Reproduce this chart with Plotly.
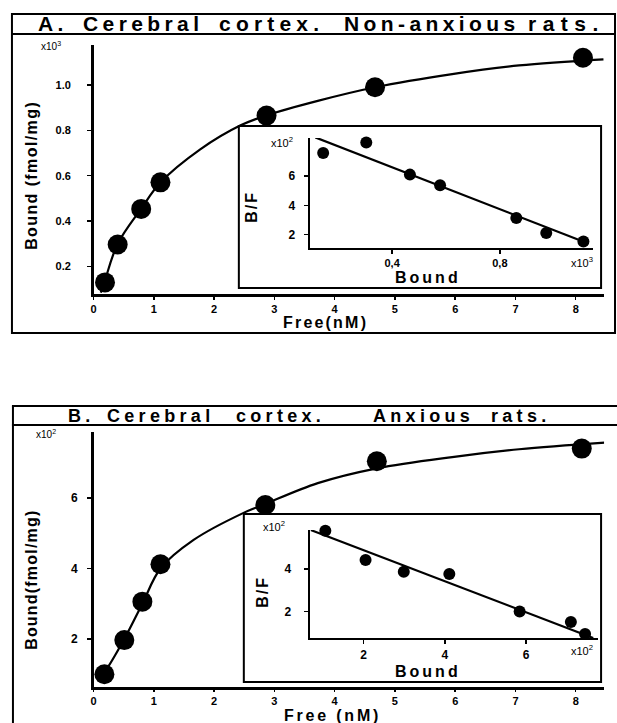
import plotly.graph_objects as go

W, H = 617, 723
def fx(x): return x / W
def fy(y): return 1 - y / H

# ---------------- Data ----------------
# Panel A: Non-anxious rats (Bound in x10^3 fmol/mg)
a_free = [0.19, 0.40, 0.79, 1.11, 2.87, 4.67, 8.12]
a_bound = [0.13, 0.297, 0.454, 0.571, 0.865, 0.99, 1.12]
a_curve_free = [0.12, 0.19, 0.40, 0.79, 1.11, 1.77, 2.44, 2.87, 3.72, 4.67, 5.95, 7.06, 8.46]
a_curve_bound = [0.085, 0.14, 0.30, 0.455, 0.57, 0.716, 0.822, 0.866, 0.93, 0.99, 1.048, 1.086, 1.113]
a_sc_bound = [0.144, 0.304, 0.466, 0.578, 0.861, 0.972, 1.11]
a_sc_bf = [7.58, 8.30, 6.10, 5.37, 3.14, 2.11, 1.54]
a_fit_bound = [0.115, 1.123]
a_fit_bf = [8.64, 1.43]

# Panel B: Anxious rats (Bound in x10^2 fmol/mg)
b_free = [0.18, 0.51, 0.81, 1.11, 2.85, 4.70, 8.10]
b_bound = [1.0, 1.97, 3.06, 4.12, 5.80, 7.04, 7.40]
b_curve_free = [0.08, 0.18, 0.51, 0.81, 1.11, 1.66, 2.48, 2.85, 3.72, 4.70, 5.95, 7.06, 8.48]
b_curve_bound = [0.84, 1.05, 2.0, 3.0, 4.0, 4.81, 5.57, 5.83, 6.42, 6.84, 7.16, 7.38, 7.57]
b_sc_bound = [1.06, 2.05, 2.99, 4.11, 5.84, 7.10, 7.45]
b_sc_bf = [5.80, 4.42, 3.87, 3.76, 2.0, 1.50, 0.94]
b_fit_bound = [0.70, 7.65]
b_fit_bf = [5.83, 0.75]

main_x_ticks = [0, 1, 2, 3, 4, 5, 6, 7, 8]
a_y_ticks = [0.2, 0.4, 0.6, 0.8, 1.0]
a_y_labels = ["0.2", "0.4", "0.6", "0.8", "1.0"]
a_in_x_ticks = [0.4, 0.8]
a_in_x_labels = ["0,4", "0,8"]
a_in_y_ticks = [2, 4, 6]
b_y_ticks = [2, 4, 6]
b_in_x_ticks = [2, 4, 6]
b_in_y_ticks = [2, 4]

FONT = "Liberation Sans, Arial, sans-serif"
BLACK = "black"

fig = go.Figure()

def big(x, y, xa, ya):
    fig.add_trace(go.Scatter(x=x, y=y, mode="markers", xaxis=xa, yaxis=ya,
                             marker=dict(size=20, color=BLACK), cliponaxis=False,
                             showlegend=False, hoverinfo="skip"))

def small(x, y, xa, ya):
    fig.add_trace(go.Scatter(x=x, y=y, mode="markers", xaxis=xa, yaxis=ya,
                             marker=dict(size=12, color=BLACK), cliponaxis=False,
                             showlegend=False, hoverinfo="skip"))

def line(x, y, xa, ya, spline=False):
    fig.add_trace(go.Scatter(x=x, y=y, mode="lines", xaxis=xa, yaxis=ya,
                             line=dict(color=BLACK, width=2.2,
                                       shape="spline" if spline else "linear", smoothing=1.0),
                             cliponaxis=False, showlegend=False, hoverinfo="skip"))

# Panel A
line(a_curve_free, a_curve_bound, "x", "y", spline=True)
big(a_free, a_bound, "x", "y")
line(a_fit_bound, a_fit_bf, "x2", "y2")
small(a_sc_bound, a_sc_bf, "x2", "y2")
# Panel B
line(b_curve_free, b_curve_bound, "x3", "y3", spline=True)
big(b_free, b_bound, "x3", "y3")
line(b_fit_bound, b_fit_bf, "x4", "y4")
small(b_sc_bound, b_sc_bf, "x4", "y4")

def ax(domain, rng, tickvals, ticktext=None, lw=2.5, fs=11, standoff=3, anchor=None, ticklen=4):
    d = dict(domain=domain, range=rng, tickvals=tickvals, showline=True, linecolor=BLACK,
             linewidth=lw, ticks="outside", ticklen=ticklen, tickwidth=1.5, tickcolor=BLACK,
             showgrid=False, zeroline=False, fixedrange=True,
             tickfont=dict(family=FONT, size=fs, color=BLACK, weight="bold"),
             ticklabelstandoff=standoff)
    if ticktext is not None:
        d["ticktext"] = ticktext
    if anchor:
        d["anchor"] = anchor
    return d

fig.update_layout(
    width=W, height=H, margin=dict(l=0, r=0, t=0, b=0),
    paper_bgcolor="white", plot_bgcolor="rgba(0,0,0,0)",
    xaxis=ax([fx(91), fx(604)], [0, 8.47], main_x_ticks, standoff=0, anchor="y", ticklen=3),
    yaxis=ax([fy(294), fy(45)], [0.079, 1.176], a_y_ticks, a_y_labels, standoff=14, anchor="x"),
    xaxis2=ax([fx(309), fx(593)], [0.097, 1.146], a_in_x_ticks, a_in_x_labels, lw=2, fs=11, standoff=0, anchor="y2"),
    yaxis2=ax([fy(248), fy(138)], [1.09, 8.6], a_in_y_ticks, lw=2, fs=12, standoff=7, anchor="x2"),
    xaxis3=ax([fx(91), fx(604)], [0, 8.47], main_x_ticks, standoff=0, anchor="y3", ticklen=2),
    yaxis3=ax([fy(687), fy(432)], [0.64, 7.87], b_y_ticks, fs=12, standoff=7, anchor="x3"),
    xaxis4=ax([fx(309), fx(598)], [0.695, 7.77], b_in_x_ticks, lw=2, fs=12, standoff=1, anchor="y4"),
    yaxis4=ax([fy(638), fy(530)], [0.75, 5.83], b_in_y_ticks, lw=2, fs=12, standoff=11, anchor="x4"),
)

shapes = []
def rect(x0, y0, x1, y1, w=2):
    shapes.append(dict(type="rect", xref="paper", yref="paper", x0=fx(x0), x1=fx(x1),
                       y0=fy(y1), y1=fy(y0), line=dict(color=BLACK, width=w), layer="below"))
def hline(x0, x1, y, w=2):
    shapes.append(dict(type="line", xref="paper", yref="paper", x0=fx(x0), x1=fx(x1),
                       y0=fy(y), y1=fy(y), line=dict(color=BLACK, width=w), layer="below"))
def vline(x, y0, y1, w=2):
    shapes.append(dict(type="line", xref="paper", yref="paper", x0=fx(x), x1=fx(x),
                       y0=fy(y0), y1=fy(y1), line=dict(color=BLACK, width=w), layer="below"))

# Panel A frame
rect(9, 14, 615, 333, 2)
hline(9, 615, 34, 2)
# Panel A inset frame
rect(237, 126, 601, 288, 2)
# Panel B frame
hline(9, 617, 406, 2)
hline(9, 617, 425, 2)
vline(10, 406, 723, 2)
# Panel B inset frame
rect(242, 514, 601, 682, 2)
fig.update_layout(shapes=shapes)

ann = []
def text(x, y, t, size=11, bold=True, xanchor="center", yanchor="middle", angle=0, ls=0):
    if ls:
        t = f'<span style="letter-spacing:{ls}px">{t}</span>'
    ann.append(dict(x=fx(x), y=fy(y), xref="paper", yref="paper", text=t, showarrow=False,
                    xanchor=xanchor, yanchor=yanchor, textangle=angle,
                    font=dict(family=FONT, size=size, color=BLACK,
                              weight="bold" if bold else "normal")))

# Titles (word by word to follow the spaced lettering)
for xx, w, s in [(33, "A.", 4.4), (78, "Cerebral", 4.4), (215, "cortex.", 5.2),
                 (341, "Non-anxious", 4.4), (526, "rats.", 6.5)]:
    text(xx, 24, w, size=21, xanchor="left", ls=s)
for xx, w in [(63, "B."), (102, "Cerebral"), (232, "cortex."), (370, "Anxious"), (488, "rats.")]:
    text(xx, 416, w, size=18, xanchor="left", ls=4.3)

# Panel A labels
text(48, 46, "x10<sup>3</sup>", size=10, bold=False)
text(28, 175, "Bound (fmol/mg)", size=16, angle=-90, ls=1.4)
text(324, 322, "Free(nM)", size=16, ls=2.2)
text(280, 142, "x10<sup>2</sup>", size=11, bold=False)
text(582, 262, "x10<sup>3</sup>", size=11, bold=False)
text(249, 207, "B/F", size=16, angle=-90, ls=2)
text(427, 277, "Bound", size=16, ls=3)

# Panel B labels
text(43, 434, "x10<sup>2</sup>", size=10, bold=False)
text(28, 580, "Bound(fmol/mg)", size=16, angle=-90, ls=1.2)
text(331, 715, "Free (nM)", size=16, ls=2.8)
text(272, 526, "x10<sup>2</sup>", size=11, bold=False)
text(582, 650, "x10<sup>2</sup>", size=11, bold=False)
text(260, 592, "B/F", size=16, angle=-90, ls=2)
text(427, 671, "Bound", size=16, ls=3)

fig.update_layout(annotations=ann)
fig.write_html("out.html", config={"displayModeBar": False, "staticPlot": True},
               post_script="document.body.style.margin='0';document.body.style.overflow='hidden';")
